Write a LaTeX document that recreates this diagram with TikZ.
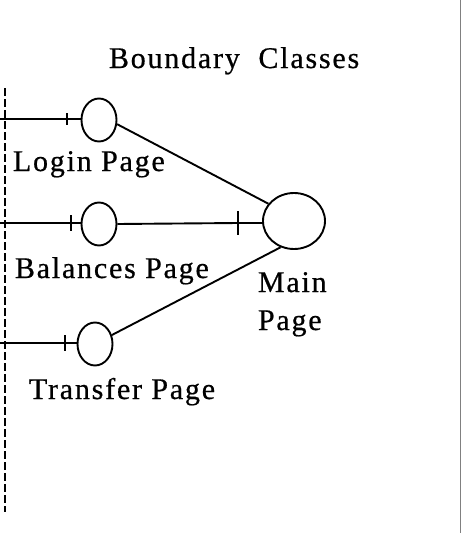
\documentclass[tikz,border=0pt]{standalone}
\usepackage{fontspec}
\setmainfont{Liberation Serif}[LetterSpace=6, FakeBold=0.6]
\usetikzlibrary{shapes.geometric}
\begin{document}
\begin{tikzpicture}[x=1pt, y=-1pt, line width=1.9pt,
    boundary/.style={draw, ellipse, inner sep=0pt, minimum width=35pt, minimum height=43pt},
    lbl/.style={anchor=base west, inner sep=0pt, font=\fontsize{30}{34}\selectfont}]
    \useasboundingbox (0,0) rectangle (461,533);
    % boundary objects
    \node[boundary] (login) at (99,120) {};
    \node[boundary] (balances) at (99,224) {};
    \node[boundary] (transfer) at (95,344) {};
    \node[boundary, minimum width=62pt, minimum height=56pt] (main) at (294,221) {};
    % bars and wire ends
    \coordinate (loginend) at (0,119);  \coordinate (loginbar) at (67,119);
    \coordinate (balend) at (0,223);    \coordinate (balbar) at (71,223);
    \coordinate (transend) at (0,343);  \coordinate (transbar) at (65,343);
    \coordinate (mainbar) at (238,223);
    \foreach \b/\h in {loginbar/6, balbar/8, transbar/8, mainbar/12}
        \draw ([yshift=\h pt]\b) -- ([yshift=-\h pt]\b);
    \draw (loginend) -- (loginbar) -- (loginbar -| login.west);
    \draw (balend) -- (balbar) -- (balbar -| balances.west);
    \draw (transend) -- (transbar) -- (transbar -| transfer.west);
    \draw (balances.east) -- (mainbar) -- (mainbar -| main.west);
    \draw (login.347) -- (main.146);
    \draw (transfer.28) -- (main.243);
    % system border
    \coordinate (bordertop) at (5,88);
    \coordinate (borderbot) at (5,512);
    \draw[line width=2.2pt, dash pattern=on 8pt off 3pt] (bordertop) -- (borderbot);
    \draw[gray, line width=0.8pt] (460,0) -- (460,533);
    % labels
    \node[lbl] (title) at (108,68) {Boundary\ \ Classes};
    \node[lbl] (loginlbl) at (12,171) {Login Page};
    \node[lbl] (ballbl) at (14,278) {Balances Page};
    \node[lbl] (mainlbl) at (257,292) {Main};
    \node[lbl] (mainlbl2) at (257,330) {Page};
    \node[lbl] (translbl) at (28,399) {Transfer Page};
\end{tikzpicture}
\end{document}
